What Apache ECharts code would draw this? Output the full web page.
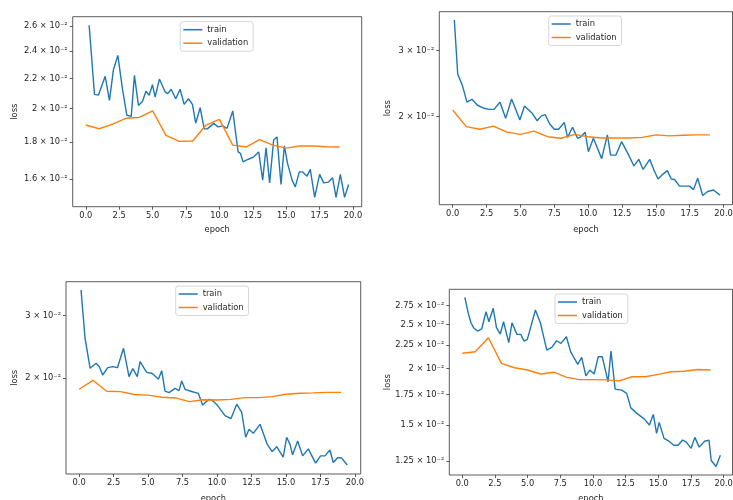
<!DOCTYPE html>
<html>
<head>
<meta charset="utf-8">
<script src="https://cdn.jsdelivr.net/npm/echarts@6/dist/echarts.min.js"></script>
<style>
html,body{margin:0;padding:0;background:#fff;}
#chart{width:733px;height:500px;}
</style>
</head>
<body>
<div id="chart"></div>
<script>
// ---------------- DATA ----------------
const valEpochs = [0,1,2,3,4,5,6,7,8,9,10,11,12,13,14,15,16,17,18,19];
const xTicks = [0,2.5,5,7.5,10,12.5,15,17.5,20];

const p1TrainX = [0.25,0.65,0.95,1.45,1.77,2.07,2.4,2.74,3.07,3.4,3.64,3.94,4.24,4.51,4.74,4.99,5.19,5.51,5.94,6.14,6.39,6.73,7.06,7.36,7.68,7.98,8.23,8.56,8.86,9.1,9.57,9.9,10.24,10.57,11.0,11.4,11.57,11.77,12.05,12.3,12.57,12.94,13.24,13.49,13.76,14.06,14.31,14.61,14.86,15.1,15.44,15.68,15.98,16.23,16.56,16.8,17.13,17.5,17.8,18.17,18.47,18.73,19.05,19.37,19.67];
const p1TrainY = [0.02605,0.02093,0.02088,0.02216,0.02053,0.02263,0.02368,0.02131,0.01959,0.01952,0.02223,0.02021,0.02046,0.02115,0.02087,0.02158,0.02075,0.02197,0.02109,0.02098,0.02127,0.02064,0.02127,0.02028,0.02064,0.02028,0.01911,0.02006,0.01877,0.01876,0.01909,0.01888,0.01894,0.01879,0.01986,0.01744,0.01736,0.0169,0.017,0.01708,0.01717,0.01744,0.01595,0.01767,0.01581,0.01811,0.01829,0.01573,0.01778,0.01682,0.01595,0.01561,0.01637,0.01637,0.01615,0.0165,0.0151,0.01624,0.01581,0.01585,0.01607,0.0151,0.01624,0.0151,0.01573];
const p1Val = [0.01899,0.01877,0.01905,0.0194,0.01945,0.01987,0.01838,0.01803,0.01805,0.01899,0.01933,0.01782,0.01771,0.01813,0.01782,0.01765,0.01777,0.01777,0.01773,0.01771];
const p1YTicks = [0.016,0.018,0.020,0.022,0.024,0.026];

const p2TrainX = [0.12,0.37,0.73,1.05,1.42,1.83,2.32,2.69,3.05,3.49,3.91,4.35,4.96,5.3,5.87,6.24,6.55,6.84,7.16,7.5,7.82,8.24,8.48,8.85,9.22,9.46,9.78,10.02,10.39,11.0,11.42,11.66,12.05,12.47,12.96,13.38,13.74,14.06,14.55,14.86,15.16,15.53,15.85,16.14,16.38,16.75,17.12,17.48,17.78,18.09,18.46,18.83,19.25,19.74];
const p2TrainY = [0.03623,0.026,0.02414,0.02188,0.02226,0.02146,0.02106,0.02092,0.02092,0.02185,0.0198,0.0223,0.0196,0.02137,0.02042,0.01951,0.0201,0.02025,0.01912,0.01852,0.01852,0.01932,0.01762,0.01874,0.01752,0.01768,0.01817,0.01613,0.01752,0.01546,0.01789,0.0158,0.0158,0.01716,0.01589,0.01478,0.01539,0.01447,0.01539,0.01442,0.01364,0.01406,0.01436,0.01364,0.0136,0.01306,0.01306,0.01306,0.01278,0.0137,0.01233,0.01263,0.01275,0.01236];
const p2Val = [0.02084,0.01882,0.01852,0.01888,0.0182,0.01795,0.01831,0.01769,0.01752,0.01795,0.01769,0.01755,0.01755,0.01755,0.01762,0.01789,0.01778,0.01785,0.01789,0.01789];
const p2YTicks = [0.02,0.03];

const p3TrainX = [0.14,0.43,0.8,1.23,1.47,1.71,2.08,2.44,2.78,3.22,3.62,3.89,4.22,4.42,4.9,5.31,5.75,5.99,6.23,6.52,6.96,7.25,7.44,7.68,8.16,8.64,8.96,9.42,9.62,10.02,10.58,11.01,11.43,11.79,12.08,12.32,12.63,13.12,13.64,14.0,14.33,14.8,15.05,15.29,15.48,15.85,16.21,16.62,17.15,17.51,17.83,18.19,18.43,18.75,19.03,19.44];
const p3TrainY = [0.03544,0.02592,0.02134,0.02204,0.02156,0.02043,0.02142,0.02156,0.02142,0.02429,0.02021,0.02129,0.02021,0.02227,0.02078,0.02063,0.01987,0.02101,0.0184,0.01822,0.01874,0.01846,0.01966,0.01862,0.01836,0.01814,0.01681,0.01745,0.01737,0.01681,0.0157,0.01539,0.01691,0.01604,0.01365,0.01437,0.014,0.01484,0.01304,0.01244,0.01284,0.012,0.01365,0.01306,0.01218,0.01333,0.0121,0.01266,0.01155,0.0121,0.0121,0.01257,0.01159,0.01196,0.01194,0.01141];
const p3Val = [0.01863,0.01974,0.01838,0.01834,0.018,0.01793,0.01768,0.01761,0.01719,0.01741,0.01737,0.01745,0.01765,0.01765,0.01776,0.01804,0.01815,0.01819,0.01826,0.01826];
const p3YTicks = [0.02,0.03];

const p4TrainX = [0.2,0.45,0.67,0.87,1.17,1.49,1.82,2.04,2.37,2.62,2.91,3.16,3.56,3.81,4.18,4.48,4.73,4.98,5.6,5.98,6.47,6.85,7.22,7.55,7.97,8.29,8.84,9.14,9.46,9.76,10.09,10.41,10.71,11.16,11.38,11.7,12.2,12.58,12.9,13.32,13.94,14.32,14.62,14.87,15.07,15.44,15.81,16.19,16.51,16.86,17.13,17.51,17.8,18.13,18.55,18.88,19.05,19.42,19.75];
const p4TrainY = [0.0287,0.02654,0.02522,0.02459,0.02418,0.02443,0.02667,0.02535,0.02714,0.02459,0.02381,0.02535,0.02279,0.02522,0.02377,0.02377,0.02298,0.02318,0.0269,0.02522,0.02195,0.02225,0.02301,0.0227,0.02349,0.02178,0.02041,0.02115,0.01924,0.01983,0.01943,0.02122,0.02122,0.01868,0.02184,0.018,0.0179,0.01761,0.01636,0.01595,0.01545,0.01499,0.01582,0.01437,0.0152,0.01401,0.01381,0.01353,0.01353,0.01389,0.01376,0.01332,0.01408,0.0134,0.01381,0.01389,0.01252,0.01214,0.01286];
const p4Val = [0.02159,0.02176,0.02337,0.02051,0.02006,0.01983,0.01943,0.01961,0.0191,0.01889,0.01889,0.01886,0.01877,0.01916,0.01916,0.0194,0.01966,0.0197,0.01988,0.01983];
const p4YTicks = [0.0125,0.015,0.0175,0.02,0.0225,0.025,0.0275];

const seriesNames = ['train','validation'];
const xName = 'epoch';
const yName = 'loss';

// ---------------- LAYOUT ----------------
const panels = [
  {tx:p1TrainX, ty:p1TrainY, val:p1Val, yt:p1YTicks, ymin:0.01466, ymax:0.02677, xmin:-0.98, xmax:20.65,
   grid:{left:72.7, top:16.7, width:289, height:190}, lg:{left:180.3, top:21.7}, yGap:54, xGap:19},
  {tx:p2TrainX, ty:p2TrainY, val:p2Val, yt:p2YTicks, ymin:0.01165, ymax:0.03812, xmin:-0.99, xmax:20.66,
   grid:{left:439.3, top:11.7, width:293.2, height:193}, lg:{left:548.7, top:16}, yGap:47.5, xGap:21},
  {tx:p3TrainX, ty:p3TrainY, val:p3Val, yt:p3YTicks, ymin:0.01076, ymax:0.03738, xmin:-0.95, xmax:20.42,
   grid:{left:66, top:281.7, width:294.7, height:192.3}, lg:{left:175.7, top:286}, yGap:47.5, xGap:21},
  {tx:p4TrainX, ty:p4TrainY, val:p4Val, yt:p4YTicks, ymin:0.01163, ymax:0.02989, xmin:-0.99, xmax:20.68,
   grid:{left:449.3, top:289.3, width:283.2, height:185.7}, lg:{left:555, top:294}, yGap:57.5, xGap:20}
];

const FONT = 'DejaVu Sans';
const FS = 8.3;
const TXT = '#262626';
const colors = ['#1f77b4','#ff7f0e'];

function yFmt(v){
  const s = parseFloat((v*100).toFixed(2)).toString();
  return s + ' \u00d7 10\u207b\u00b2';
}

const grids=[], xAxes=[], yAxes=[], series=[], legends=[];
panels.forEach((p,i)=>{
  grids.push(Object.assign({show:true, borderColor:'#333', borderWidth:0.8, backgroundColor:'transparent',
    containLabel:false, outerBoundsMode:'none'}, p.grid));
  xAxes.push({
    type:'value', gridIndex:i, min:p.xmin, max:p.xmax, position:'bottom',
    axisLine:{show:false, onZero:false}, splitLine:{show:false},
    axisTick:{show:true, customValues:xTicks, length:3, lineStyle:{color:'#333', width:0.8}},
    axisLabel:{customValues:xTicks, formatter:v=>Number(v).toFixed(1), fontFamily:FONT, fontSize:FS, color:TXT, margin:5},
    name:xName, nameLocation:'middle', nameGap:p.xGap,
    nameTextStyle:{fontFamily:FONT, fontSize:FS, color:TXT}
  });
  yAxes.push({
    type:'log', logBase:10, gridIndex:i, min:p.ymin, max:p.ymax, position:'left',
    axisLine:{show:false, onZero:false}, splitLine:{show:false}, minorTick:{show:false},
    axisTick:{show:true, customValues:p.yt, length:3, lineStyle:{color:'#333', width:0.8}},
    axisLabel:{customValues:p.yt, formatter:yFmt, fontFamily:FONT, fontSize:FS, color:TXT, margin:5},
    name:yName, nameLocation:'middle', nameGap:p.yGap, nameRotate:90,
    nameTextStyle:{fontFamily:FONT, fontSize:FS, color:TXT}
  });
  series.push({
    name:seriesNames[0], type:'line', xAxisIndex:i, yAxisIndex:i,
    data:p.tx.map((x,k)=>[x,p.ty[k]]), showSymbol:false, symbol:'none',
    lineStyle:{color:colors[0], width:1.4}, itemStyle:{color:colors[0]}, z:2
  });
  series.push({
    name:seriesNames[1], type:'line', xAxisIndex:i, yAxisIndex:i,
    data:valEpochs.map((x,k)=>[x,p.val[k]]), showSymbol:false, symbol:'none',
    lineStyle:{color:colors[1], width:1.4}, itemStyle:{color:colors[1]}, z:3
  });
  legends.push({
    data:seriesNames, orient:'vertical', left:p.lg.left, top:p.lg.top,
    icon:'rect', itemWidth:19, itemHeight:1.5, itemGap:3.5,
    padding:[3,5,3,3], borderColor:'#cccccc', borderWidth:0.8, borderRadius:2.5,
    backgroundColor:'rgba(255,255,255,0.85)', selectedMode:false,
    textStyle:{fontFamily:FONT, fontSize:FS, color:TXT, lineHeight:10}
  });
});

const chart = echarts.init(document.getElementById('chart'), null, {renderer:'canvas'});
chart.setOption({
  animation:false,
  backgroundColor:'#ffffff',
  grid:grids, xAxis:xAxes, yAxis:yAxes, series:series, legend:legends
});
</script>
</body>
</html>
